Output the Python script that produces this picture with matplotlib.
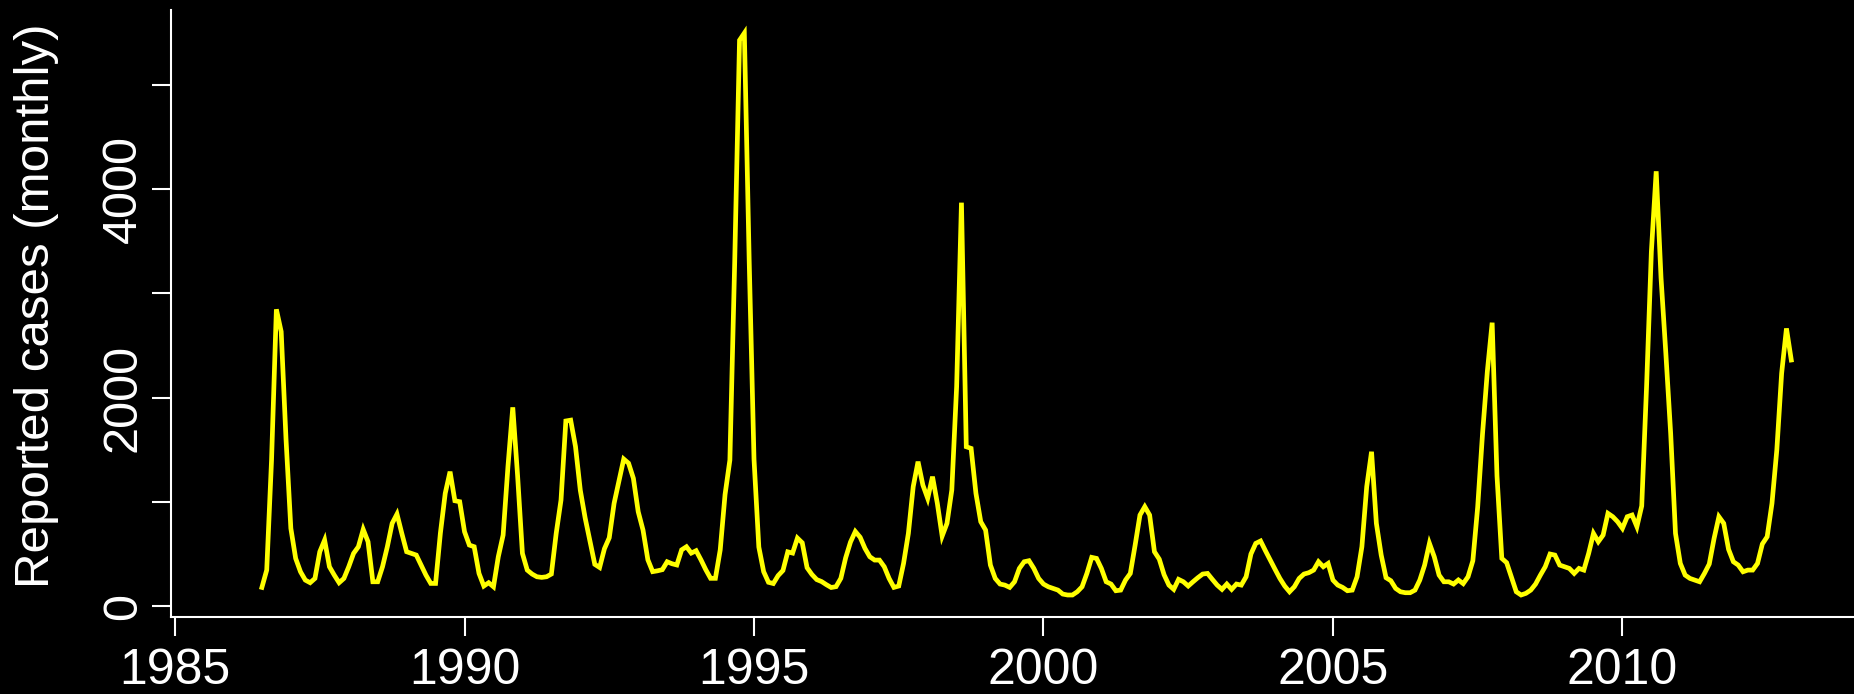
import matplotlib
matplotlib.use('Agg')
import matplotlib.pyplot as plt
import numpy as np

# monthly reported cases, Jul 1986 - Dec 2012 (one row per calendar year)
first_year = 1986
first_month = 7
monthly_cases = [
    179, 345, 1400, 2846, 2632, 1600,                                  # 1986
    745, 457, 329, 249, 224, 265, 521, 633, 377, 297, 224, 265,         # 1987
    377, 505, 569, 735, 617, 233, 233, 377, 569, 793, 882, 697,         # 1988
    521, 505, 489, 393, 297, 217, 217, 700, 1081, 1289, 1010, 1001,     # 1989
    713, 585, 569, 313, 192, 224, 185, 473, 681, 1337, 1906, 1250,      # 1990
    505, 345, 307, 281, 275, 281, 307, 697, 1017, 1775, 1783, 1530,     # 1991
    1110, 845, 620, 400, 370, 550, 655, 985, 1200, 1410, 1370, 1225,    # 1992
    905, 728, 444, 330, 338, 349, 425, 406, 394, 539, 569, 508,         # 1993
    531, 444, 349, 266, 266, 539, 1070, 1400, 3300, 5427, 5496, 3320,   # 1994
    1410, 566, 330, 228, 216, 292, 341, 520, 508, 652, 607, 368,        # 1995
    303, 254, 235, 205, 178, 186, 266, 463, 614, 715, 660, 553,         # 1996
    473, 441, 441, 377, 265, 179, 192, 409, 697, 1145, 1385, 1161,      # 1997
    1033, 1241, 985, 671, 793, 1113, 2104, 3869, 1528, 1512, 1081, 809, # 1998
    729, 393, 265, 211, 201, 179, 233, 361, 425, 435, 361, 265,         # 1999
    211, 185, 169, 153, 115, 106, 106, 137, 185, 313, 467, 457,         # 2000
    361, 233, 211, 147, 153, 249, 313, 585, 873, 953, 873, 521,         # 2001
    450, 300, 201, 160, 256, 233, 192, 233, 272, 307, 313, 256,         # 2002
    201, 160, 211, 160, 211, 201, 281, 499, 601, 624, 531, 441,         # 2003
    352, 265, 192, 137, 185, 265, 307, 320, 345, 425, 377, 409,         # 2004
    249, 201, 179, 147, 153, 281, 569, 1145, 1480, 793, 489, 272,       # 2005
    243, 169, 137, 128, 128, 153, 249, 393, 601, 473, 297, 233,         # 2006
    233, 211, 250, 215, 281, 435, 950, 1650, 2250, 2718, 1250, 457,     # 2007
    416, 275, 137, 106, 122, 153, 211, 297, 377, 499, 489, 393,         # 2008
    377, 361, 313, 361, 345, 505, 697, 617, 681, 889, 857, 809,         # 2009
    745, 857, 873, 761, 960, 2100, 3400, 4170, 3150, 2424, 1656, 697,   # 2010
    409, 297, 265, 249, 233, 313, 403, 649, 857, 793, 544, 425,         # 2011
    393, 329, 345, 345, 409, 595, 665, 985, 1496, 2232, 2663, 2360,     # 2012
]
x_ticks = [1985, 1990, 1995, 2000, 2005, 2010]
y_ticks = [0, 1000, 2000, 3000, 4000, 5000]
y_tick_labels = ['0', '', '2000', '', '4000', '']
y_title = 'Reported cases (monthly)'

# time index like an R ts object
t = first_year + (first_month - 1) / 12 + np.arange(len(monthly_cases)) / 12

plt.rcParams['font.family'] = ['Liberation Sans', 'DejaVu Sans']

W, H = 1854, 694
top_px, bottom_px, left_px = 10, 617, 171
fig = plt.figure(figsize=(W / 100, H / 100), dpi=100, facecolor='black')
ax = fig.add_axes([left_px / W, 1 - bottom_px / H, 1 - left_px / W, (bottom_px - top_px) / H])
ax.set_facecolor('black')

ax.plot(t, monthly_cases, color='#ffff00', lw=3.4, solid_joinstyle='miter')

ax.set_xlim(1984.93, 2014.0)
ax.set_ylim(-105, 5717)

ax.set_xticks(x_ticks)
ax.set_xticklabels([str(x) for x in x_ticks])
ax.set_yticks(y_ticks)
ax.set_yticklabels(y_tick_labels, rotation=90, va='center')

for side in ['top', 'right']:
    ax.spines[side].set_visible(False)
for side in ['left', 'bottom']:
    ax.spines[side].set_color('white')
    ax.spines[side].set_linewidth(1.5)

ax.tick_params(axis='both', colors='white', length=14, width=1.5)
ax.tick_params(axis='x', labelsize=36, pad=8)
ax.tick_params(axis='y', labelsize=35, pad=4)

ax.set_ylabel(y_title, color='white', fontsize=35.5)
# label position in axes fraction (right edge of the rotated text, vertical centre)
ax.yaxis.set_label_coords(-0.0665, (bottom_px - 305.6) / (bottom_px - top_px))

fig.savefig('out.png', dpi=100, facecolor='black')
